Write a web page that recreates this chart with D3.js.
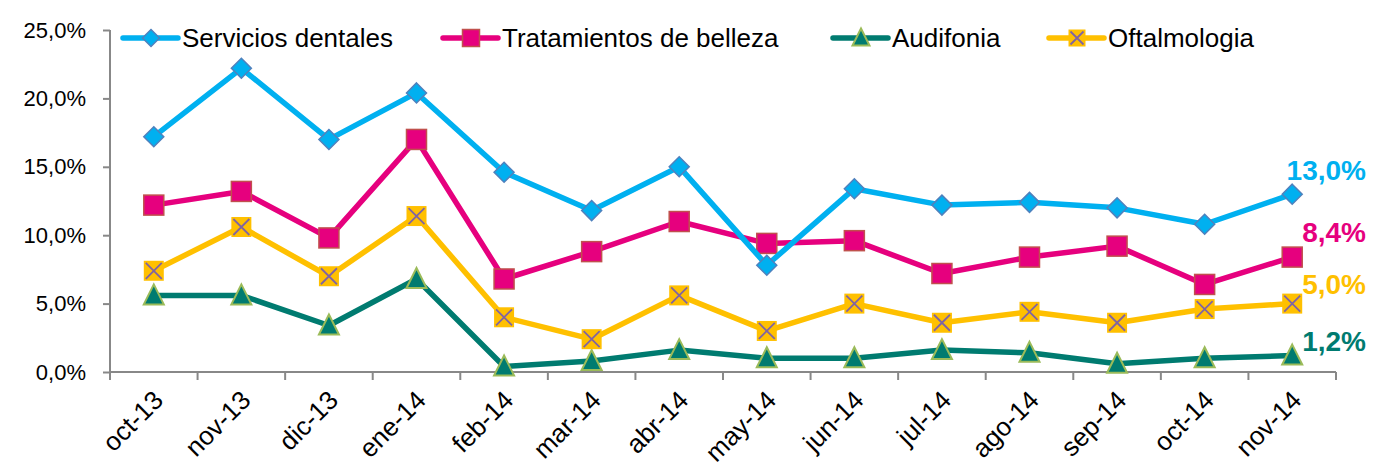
<!DOCTYPE html>
<html>
<head>
<meta charset="utf-8">
<script src="https://cdn.jsdelivr.net/npm/d3@7"></script>
<style>
  body { margin: 0; background: #fff; }
  text { font-family: "Liberation Sans", Arial, sans-serif; }
</style>
</head>
<body>
<script>
// meses y valores
var meses = ["oct-13", "nov-13", "dic-13", "ene-14", "feb-14", "mar-14", "abr-14",
             "may-14", "jun-14", "jul-14", "ago-14", "sep-14", "oct-14", "nov-14"];

var serviciosDentales = [17.2, 22.2, 17.0, 20.4, 14.6, 11.8, 15.0, 7.8, 13.4, 12.2, 12.4, 12.0, 10.8, 13.0];
var tratamientosBelleza = [12.2, 13.2, 9.8, 17.0, 6.8, 8.8, 11.0, 9.4, 9.6, 7.2, 8.4, 9.2, 6.4, 8.4];
var audifonia = [5.6, 5.6, 3.4, 6.8, 0.4, 0.8, 1.6, 1.0, 1.0, 1.6, 1.4, 0.6, 1.0, 1.2];
var oftalmologia = [7.4, 10.6, 7.0, 11.4, 4.0, 2.4, 5.6, 3.0, 5.0, 3.6, 4.4, 3.6, 4.6, 5.0];

var ticksY = [0, 5, 10, 15, 20, 25];

var series = [
    { nombre: "Servicios dentales", valores: serviciosDentales, color: "#00b0f0", borde: "#4f81bd", marca: "diamante", dyEtiqueta: -24, leyendaX: 123 },
    { nombre: "Tratamientos de belleza", valores: tratamientosBelleza, color: "#e6007e", borde: "#c0504d", marca: "cuadrado", dyEtiqueta: -25, leyendaX: 443 },
    { nombre: "Audifonia", valores: audifonia, color: "#007b70", borde: "#9bbb59", marca: "triangulo", dyEtiqueta: -14, leyendaX: 833 },
    { nombre: "Oftalmologia", valores: oftalmologia, color: "#ffc000", borde: "#8064a2", marca: "cruz", dyEtiqueta: -19, leyendaX: 1049 }
];
// orden de dibujo (la linea azul queda encima)
var ordenDibujo = [2, 3, 1, 0];

var width = 1374;
var height = 466;
var margen = { arriba: 30, abajo: 94, izquierda: 110, derecha: 38 };

var escalaX = d3.scaleBand()
    .domain(meses)
    .range([margen.izquierda, width - margen.derecha]);

var escalaY = d3.scaleLinear()
    .domain([0, 25])
    .range([height - margen.abajo, margen.arriba]);

var svg = d3.select("body")
    .append("svg")
    .attr("width", width)
    .attr("height", height);

// eje Y
var ejeY = d3.axisLeft(escalaY)
    .tickValues(ticksY)
    .tickSize(7)
    .tickPadding(17)
    .tickFormat(function(d){ return d3.format(".1f")(d).replace(".", ",") + "%"; });

var gY = svg.append("g")
    .attr("transform", "translate(" + margen.izquierda + ",0)")
    .call(ejeY);
gY.selectAll("path, line").attr("stroke", "#888").attr("stroke-width", 2);
gY.select(".domain").attr("d", "M0," + escalaY(25) + "V" + escalaY(0));
gY.selectAll("text").attr("font-size", 22).attr("fill", "#000").attr("font-family", "Liberation Sans, Arial");

// eje X
var ejeX = d3.axisBottom(escalaX).tickSize(8).tickSizeOuter(0).tickFormat("");
var gX = svg.append("g")
    .attr("transform", "translate(0," + escalaY(0) + ")")
    .call(ejeX);
gX.selectAll(".tick line").attr("transform", "translate(" + (-escalaX.bandwidth() / 2) + ",0)");
gX.append("line")
    .attr("x1", width - margen.derecha).attr("x2", width - margen.derecha)
    .attr("y1", 0).attr("y2", 8);
gX.selectAll("path, line").attr("stroke", "#888").attr("stroke-width", 2);
gX.select(".domain").attr("d", "M" + margen.izquierda + ",0H" + (width - margen.derecha));

svg.append("g")
    .selectAll("text")
    .data(meses)
    .join("text")
    .attr("transform", function(d){ return "translate(" + (escalaX(d) + escalaX.bandwidth() / 2 - 2) + "," + (escalaY(0) + 17) + ") rotate(-45)"; })
    .attr("text-anchor", "end")
    .attr("dy", "0.7em")
    .attr("font-size", 26)
    .attr("fill", "#000")
    .text(function(d){ return d; });

function centroX(i) {
    return escalaX(meses[i]) + escalaX.bandwidth() / 2;
}

function dibujarMarca(g, s, x, y, escala) {
    var k = escala || 1;
    if (s.marca === "diamante") {
        var r = 10 * k;
        g.append("path")
            .attr("d", "M" + x + "," + (y - r) + "L" + (x + r) + "," + y + "L" + x + "," + (y + r) + "L" + (x - r) + "," + y + "Z")
            .attr("fill", s.color).attr("stroke", s.borde).attr("stroke-width", 1.5);
    } else if (s.marca === "cuadrado") {
        var m = 10 * k;
        g.append("rect")
            .attr("x", x - m).attr("y", y - m).attr("width", 2 * m).attr("height", 2 * m)
            .attr("fill", s.color).attr("stroke", s.borde).attr("stroke-width", 1.5);
    } else if (s.marca === "triangulo") {
        var t = 10 * k;
        g.append("path")
            .attr("d", "M" + x + "," + (y - t - 1) + "L" + (x + t) + "," + (y + t - 1) + "L" + (x - t) + "," + (y + t - 1) + "Z")
            .attr("fill", s.color).attr("stroke", s.borde).attr("stroke-width", 2);
    } else {
        var c = 10 * k;
        g.append("rect")
            .attr("x", x - c).attr("y", y - c).attr("width", 2 * c).attr("height", 2 * c)
            .attr("fill", s.color);
        g.append("path")
            .attr("d", "M" + (x - c + 2) + "," + (y - c + 2) + "L" + (x + c - 2) + "," + (y + c - 2) + "M" + (x + c - 2) + "," + (y - c + 2) + "L" + (x - c + 2) + "," + (y + c - 2))
            .attr("stroke", s.borde).attr("stroke-width", 1.8);
    }
}

var linea = d3.line()
    .x(function(d, i){ return centroX(i); })
    .y(function(d){ return escalaY(d); });

ordenDibujo.forEach(function(idx) {
    var s = series[idx];
    var g = svg.append("g");
    g.append("path")
        .attr("d", linea(s.valores))
        .attr("fill", "none")
        .attr("stroke", s.color)
        .attr("stroke-width", 5.5)
        .attr("stroke-linejoin", "round");
    s.valores.forEach(function(v, i) {
        dibujarMarca(g, s, centroX(i), escalaY(v));
    });

    // etiqueta del ultimo valor
    var ultimo = s.valores[s.valores.length - 1];
    svg.append("text")
        .attr("x", width - 8)
        .attr("y", escalaY(ultimo) + s.dyEtiqueta)
        .attr("dy", "0.35em")
        .attr("text-anchor", "end")
        .attr("font-family", "Lato, sans-serif")
        .attr("font-weight", "bold")
        .attr("font-size", 28)
        .attr("fill", s.color)
        .text(d3.format(".1f")(ultimo).replace(".", ",") + "%");
});

// leyenda
var leyenda = svg.append("g");
series.forEach(function(s) {
    var y = 38;
    leyenda.append("line")
        .attr("x1", s.leyendaX).attr("x2", s.leyendaX + 55)
        .attr("y1", y).attr("y2", y)
        .attr("stroke", s.color).attr("stroke-width", 5.5).attr("stroke-linecap", "round");
    dibujarMarca(leyenda, s, s.leyendaX + 28, y, 0.85);
    leyenda.append("text")
        .attr("x", s.leyendaX + 59)
        .attr("y", y)
        .attr("dy", "0.35em")
        .attr("font-size", 26)
        .attr("fill", "#000")
        .text(s.nombre);
});
</script>
</body>
</html>
